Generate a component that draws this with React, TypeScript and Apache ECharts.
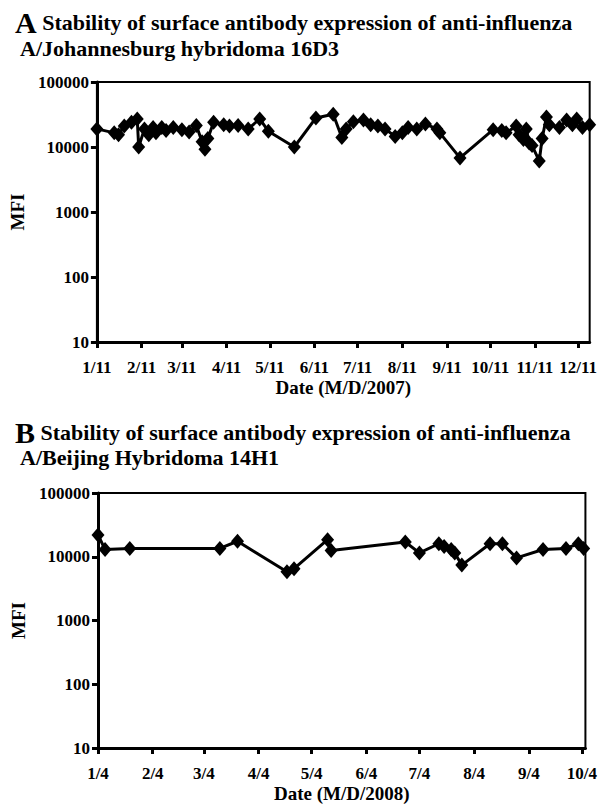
import { useEffect, useRef } from "react";
import * as echarts from "echarts";

// ---------- Data ----------
const yearA = 2007;
const datesA = [
  "1/11", "1/23", "1/26", "1/30", "2/4", "2/8", "2/9", "2/13", "2/16", "2/19",
  "2/21", "2/25", "2/28", "3/5", "3/11", "3/16", "3/21", "3/25", "3/27", "3/29",
  "4/2", "4/9", "4/13", "4/19", "4/26", "5/4", "5/10", "5/28", "6/12", "6/24",
  "6/30", "7/3", "7/8", "7/15", "7/20", "7/25", "7/30", "8/6", "8/11", "8/15",
  "8/21", "8/27", "9/4", "9/6", "9/20", "10/13", "10/19", "10/22", "10/29", "10/31",
  "11/3", "11/5", "11/7", "11/9", "11/14", "11/16", "11/19", "11/21", "11/28", "12/3",
  "12/7", "12/10", "12/14", "12/19",
];
const valuesA = [
  19000, 16500, 15500, 21000, 24000, 27000, 10000, 19000, 15500, 20000,
  16500, 20000, 18000, 20000, 18500, 17000, 21500, 12000, 9200, 13500,
  24000, 22000, 21000, 21500, 19000, 27000, 17500, 10000, 28000, 32000,
  14000, 19000, 24500, 26000, 22000, 21000, 19000, 14500, 16500, 20000,
  19000, 22500, 19000, 16500, 6800, 18500, 18000, 16500, 21000, 15500,
  13000, 19000, 11500, 10500, 6100, 13500, 29000, 22000, 20000, 26000,
  22000, 27000, 20000, 22000,
];
const ticksA = ["1/11", "2/11", "3/11", "4/11", "5/11", "6/11", "7/11", "8/11", "9/11", "10/11", "11/11", "12/11"];
const rangeA = ["1/11", "12/19"];

const yearB = 2008;
const datesB = [
  "1/4", "1/8", "1/22", "3/13", "3/23", "4/20", "4/24", "5/13", "5/15", "6/26",
  "7/4", "7/15", "7/18", "7/22", "7/24", "7/28", "8/13", "8/20", "8/28", "9/12",
  "9/25", "10/2", "10/5",
];
const valuesB = [
  22000, 13000, 13500, 13500, 17500, 5800, 6500, 18500, 12500, 17000,
  11500, 16000, 14500, 13000, 11500, 7400, 16000, 16000, 9600, 13000,
  13500, 16000, 13500,
];
const ticksB = ["1/4", "2/4", "3/4", "4/4", "5/4", "6/4", "7/4", "8/4", "9/4", "10/4"];
const rangeB = ["1/4", "10/6"];

const titleA1 = "Stability of surface antibody expression of anti-influenza";
const titleA2 = "A/Johannesburg hybridoma 16D3";
const titleB1 = "Stability of surface antibody expression of anti-influenza";
const titleB2 = "A/Beijing Hybridoma 14H1";
const xNameA = "Date (M/D/2007)";
const xNameB = "Date (M/D/2008)";
const yName = "MFI";

// ---------- Helpers ----------
function dayOfYear(md: string, year: number): number {
  const [m, d] = md.split("/").map(Number);
  return Math.round((Date.UTC(year, m - 1, d) - Date.UTC(year, 0, 1)) / 86400000) + 1;
}

const FONT = '"Liberation Serif", "Times New Roman", "DejaVu Serif", serif';

function xAxisFor(ticks: string[], range: string[], year: number, name: string, gridIndex: number) {
  const tickVals = ticks.map((t) => dayOfYear(t, year));
  const labelMap = new Map<number, string>();
  ticks.forEach((t, i) => labelMap.set(tickVals[i], t));
  return {
    type: "value",
    gridIndex,
    min: dayOfYear(range[0], year),
    max: dayOfYear(range[1], year),
    name,
    nameLocation: "middle",
    nameGap: 36,
    nameTextStyle: { fontFamily: FONT, fontWeight: "bold", fontSize: 19, color: "#000" },
    axisLine: { show: true, onZero: false, lineStyle: { color: "#000", width: 3 } },
    axisTick: { show: true, customValues: tickVals, length: 6, lineStyle: { color: "#000", width: 3 } },
    axisLabel: {
      customValues: tickVals,
      margin: 17,
      fontFamily: FONT,
      fontWeight: "bold",
      fontSize: 17,
      color: "#000",
      formatter: (v: number) => labelMap.get(v) ?? "",
    },
    splitLine: { show: false },
  };
}

function yAxisFor(gridIndex: number) {
  return {
    type: "log",
    logBase: 10,
    gridIndex,
    min: 10,
    max: 100000,
    name: yName,
    nameLocation: "middle",
    nameGap: 62,
    nameRotate: 90,
    nameTextStyle: { fontFamily: FONT, fontWeight: "bold", fontSize: 19, color: "#000" },
    axisLine: { show: true, lineStyle: { color: "#000", width: 3 } },
    axisTick: { show: true, length: 6, lineStyle: { color: "#000", width: 3 } },
    axisLabel: {
      margin: 8,
      fontFamily: FONT,
      fontWeight: "bold",
      fontSize: 17,
      color: "#000",
      formatter: (v: number) => String(Math.round(v)),
    },
    splitLine: { show: false },
    minorTick: { show: false },
  };
}

function seriesFor(dates: string[], values: number[], year: number, idx: number) {
  return {
    type: "line",
    xAxisIndex: idx,
    yAxisIndex: idx,
    data: dates.map((d, i) => [dayOfYear(d, year), values[i]]),
    symbol: "diamond",
    symbolSize: [13, 15],
    showSymbol: true,
    lineStyle: { color: "#000", width: 3 },
    itemStyle: { color: "#000" },
    clip: false,
  };
}

export default function App() {
  const ref = useRef<HTMLDivElement>(null);
  useEffect(() => {
    if (!ref.current) return;
    const chart = echarts.init(ref.current, undefined, { renderer: "svg" });
    const titleStyle = {
      fontFamily: FONT,
      fontWeight: "bold",
      fontSize: 22,
      color: "#000",
      rich: {
        big: { fontFamily: FONT, fontWeight: "bold", fontSize: 30, color: "#000" },
        t: { fontFamily: FONT, fontWeight: "bold", fontSize: 22, color: "#000" },
      },
    };
    chart.setOption({
      animation: false,
      backgroundColor: "#fff",
      title: [
        { text: "{big|A} {t|" + titleA1 + "}", left: 10, top: 2, textStyle: titleStyle },
        { text: titleA2, left: 15, top: 32, textStyle: { ...titleStyle } },
        { text: "{big|B} {t|" + titleB1 + "}", left: 10, top: 412, textStyle: titleStyle },
        { text: titleB2, left: 15, top: 441, textStyle: { ...titleStyle } },
      ],
      grid: [
        { left: 95, right: 9, top: 82, height: 260, show: true, borderColor: "#000", borderWidth: 2, backgroundColor: "transparent" },
        { left: 98, right: 9, top: 493, height: 255, show: true, borderColor: "#000", borderWidth: 2, backgroundColor: "transparent" },
      ],
      xAxis: [
        xAxisFor(ticksA, rangeA, yearA, xNameA, 0),
        xAxisFor(ticksB, rangeB, yearB, xNameB, 1),
      ],
      yAxis: [yAxisFor(0), yAxisFor(1)],
      series: [
        seriesFor(datesA, valuesA, yearA, 0),
        seriesFor(datesB, valuesB, yearB, 1),
      ],
    });
    return () => chart.dispose();
  }, []);
  return (
    <div
      ref={ref}
      style={{ position: "absolute", left: 0, top: 0, width: 600, height: 810, background: "#fff" }}
    />
  );
}
